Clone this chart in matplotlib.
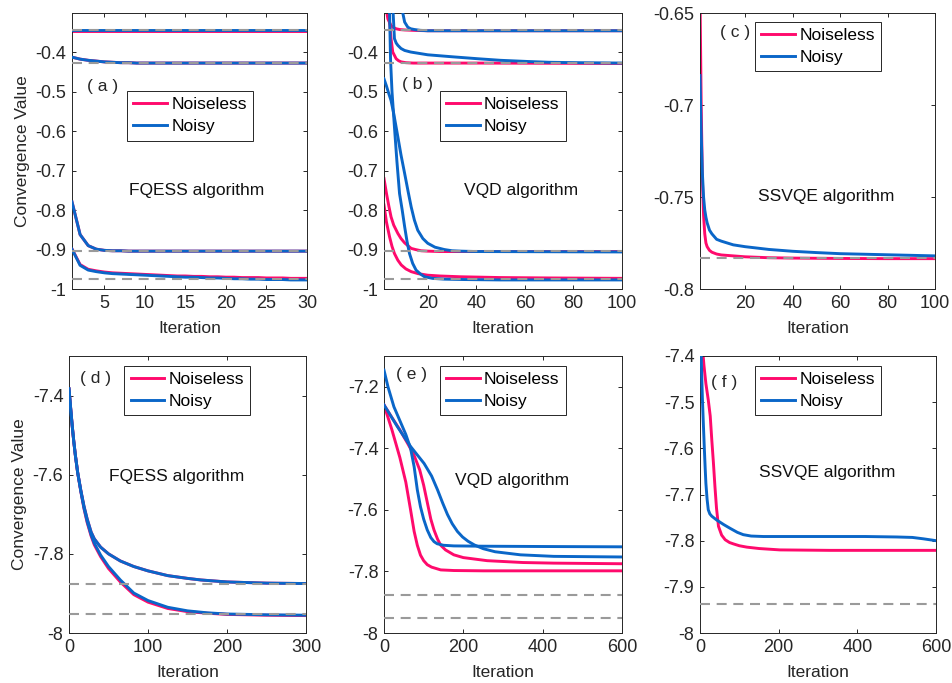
import numpy as np
import matplotlib as mpl
mpl.use('Agg')
import matplotlib.pyplot as plt

plt.rcParams['font.family'] = ['Liberation Sans', 'DejaVu Sans']
plt.rcParams['axes.unicode_minus'] = False

PINK = '#FF0A6C'
BLUE = '#0A66C8'
GRAY = '#9A9A9A'
DARK = '#262626'

# ---------------- (a) FQESS, 4 states ----------------
a_x = list(range(1, 31))
a_clean = [
    [-0.345] * 30,
    [-0.412, -0.417, -0.420, -0.422, -0.424, -0.425, -0.426, -0.426, -0.427, -0.427,
     -0.427, -0.427, -0.427, -0.427, -0.427, -0.427, -0.427, -0.427, -0.427, -0.427,
     -0.427, -0.427, -0.427, -0.427, -0.427, -0.427, -0.427, -0.427, -0.427, -0.427],
    [-0.779, -0.862, -0.890, -0.899, -0.902, -0.903, -0.903, -0.904, -0.904, -0.904,
     -0.904, -0.904, -0.904, -0.904, -0.904, -0.904, -0.904, -0.904, -0.904, -0.904,
     -0.904, -0.904, -0.904, -0.904, -0.904, -0.904, -0.904, -0.904, -0.904, -0.904],
    [-0.898, -0.938, -0.950, -0.954, -0.957, -0.959, -0.960, -0.961, -0.962, -0.963,
     -0.964, -0.965, -0.966, -0.967, -0.967, -0.968, -0.968, -0.969, -0.969, -0.970,
     -0.970, -0.971, -0.971, -0.971, -0.972, -0.972, -0.972, -0.973, -0.973, -0.973],
]
a_noisy = [
    [-0.343] * 30,
    [-0.412, -0.417, -0.420, -0.422, -0.424, -0.425, -0.426, -0.426, -0.427, -0.427,
     -0.427, -0.427, -0.427, -0.427, -0.427, -0.427, -0.427, -0.427, -0.427, -0.427,
     -0.427, -0.427, -0.427, -0.427, -0.427, -0.427, -0.427, -0.427, -0.427, -0.427],
    [-0.779, -0.862, -0.890, -0.899, -0.902, -0.903, -0.903, -0.904, -0.904, -0.904,
     -0.904, -0.904, -0.904, -0.904, -0.904, -0.904, -0.904, -0.904, -0.904, -0.904,
     -0.904, -0.904, -0.904, -0.904, -0.904, -0.904, -0.904, -0.904, -0.904, -0.904],
    [-0.899, -0.940, -0.952, -0.956, -0.959, -0.961, -0.962, -0.963, -0.964, -0.965,
     -0.966, -0.967, -0.968, -0.969, -0.970, -0.970, -0.971, -0.972, -0.972, -0.973,
     -0.974, -0.974, -0.975, -0.975, -0.976, -0.976, -0.976, -0.977, -0.977, -0.977],
]
exact_small = [-0.344, -0.427, -0.904, -0.974]

# ---------------- (b) VQD, 4 states ----------------
b_clean = [
    ([2, 2.9, 3.6, 4.9, 6, 7, 8.5, 10.5, 14, 20, 40, 60, 80, 100],
     [-0.15, -0.29, -0.315, -0.332, -0.337, -0.340, -0.342, -0.343, -0.344, -0.345,
      -0.345, -0.345, -0.345, -0.345]),
    ([2, 3.8, 4.4, 4.9, 5.6, 7, 8, 9.1, 11, 14, 20, 40, 100],
     [-0.1, -0.30, -0.33, -0.365, -0.399, -0.416, -0.421, -0.424, -0.426, -0.427,
      -0.427, -0.427, -0.428]),
    ([2, 3, 4, 4.9, 6, 7.7, 9, 10.5, 12, 13.2, 15, 17.3, 20, 25, 30, 50, 100],
     [-0.72, -0.757, -0.79, -0.817, -0.838, -0.859, -0.872, -0.883, -0.891, -0.897,
      -0.900, -0.903, -0.904, -0.905, -0.905, -0.905, -0.905]),
    ([2, 3, 4.3, 5.3, 6.3, 7.7, 9.1, 11, 13.2, 16, 20, 25, 33.7, 50, 70, 100],
     [-0.787, -0.83, -0.868, -0.892, -0.910, -0.927, -0.939, -0.949, -0.956, -0.961,
      -0.965, -0.967, -0.969, -0.971, -0.972, -0.973]),
]
b_noisy = [
    ([9.2, 9.8, 10.5, 11.8, 13, 14.6, 17, 20, 40, 100],
     [-0.25, -0.302, -0.323, -0.336, -0.340, -0.342, -0.344, -0.345, -0.345, -0.345]),
    ([5.0, 5.6, 6.3, 7.0, 7.7, 9, 10.5, 13, 16, 20, 30, 40.6, 50, 61.2, 70, 81.7, 100],
     [-0.15, -0.281, -0.365, -0.376, -0.382, -0.390, -0.395, -0.399, -0.402, -0.406,
      -0.411, -0.416, -0.420, -0.423, -0.425, -0.426, -0.427]),
    ([2, 3, 4, 4.9, 6, 7.7, 9, 10.5, 12, 13.2, 14.5, 15.9, 18, 20, 23, 26.9, 30, 33.7, 40, 100],
     [-0.467, -0.485, -0.505, -0.522, -0.555, -0.614, -0.660, -0.707, -0.755, -0.792,
      -0.825, -0.851, -0.872, -0.884, -0.894, -0.900, -0.903, -0.904, -0.905, -0.906]),
    ([3.5, 4.3, 4.7, 5.3, 6.3, 7.3, 8.4, 9.5, 10.5, 11.5, 12.5, 13.8, 15.2, 17, 18.7,
      22, 26.9, 35, 50, 100],
     [-0.10, -0.30, -0.42, -0.50, -0.589, -0.675, -0.758, -0.80, -0.842, -0.88, -0.91,
      -0.935, -0.952, -0.962, -0.969, -0.973, -0.975, -0.976, -0.977, -0.977]),
]

# ---------------- (c) SSVQE, 1 state ----------------
c_clean = [([1, 1.5, 2, 2.5, 3, 3.5, 4, 5, 6, 8, 10, 15, 20, 30, 40, 60, 80, 100],
            [-0.64, -0.70, -0.74, -0.760, -0.770, -0.775, -0.777, -0.779, -0.780, -0.781,
             -0.7815, -0.782, -0.7825, -0.783, -0.7832, -0.7834, -0.7835, -0.7835])]
c_noisy = [([1, 1.5, 2, 2.5, 3, 3.5, 4, 5, 6, 8, 10, 15, 20, 30, 40, 50, 60, 80, 100],
            [-0.684, -0.715, -0.737, -0.750, -0.757, -0.761, -0.764, -0.768, -0.770, -0.773,
             -0.774, -0.776, -0.777, -0.7785, -0.7795, -0.7802, -0.7808, -0.7814, -0.782])]
exact_c = [-0.7833]

# ---------------- (d) FQESS, large model ----------------
d_x_up = [0, 2, 4, 6, 8, 11, 15, 19, 23, 28, 32, 40, 50, 65, 82, 100, 125, 150, 167, 200, 250, 300]
d_x_lo = [0, 2, 4, 6, 8, 11, 15, 19, 23, 28, 32, 40, 50, 65, 82, 100, 125, 150, 175, 200, 250, 300]
d_clean = [
    (d_x_up, [-7.383, -7.43, -7.475, -7.515, -7.55, -7.595, -7.64, -7.68, -7.712, -7.745, -7.762,
              -7.783, -7.80, -7.818, -7.832, -7.843, -7.855, -7.862, -7.866, -7.871, -7.874, -7.875]),
    (d_x_lo, [-7.383, -7.43, -7.475, -7.515, -7.55, -7.595, -7.643, -7.686, -7.721, -7.755, -7.777,
              -7.807, -7.837, -7.871, -7.903, -7.922, -7.938, -7.946, -7.950, -7.953, -7.955, -7.956]),
]
d_noisy = [
    (d_x_up, [-7.383, -7.43, -7.475, -7.515, -7.55, -7.595, -7.64, -7.68, -7.712, -7.745, -7.762,
              -7.783, -7.80, -7.818, -7.832, -7.843, -7.855, -7.862, -7.866, -7.871, -7.874, -7.875]),
    (d_x_lo, [-7.383, -7.43, -7.475, -7.515, -7.55, -7.595, -7.642, -7.684, -7.718, -7.752, -7.773,
              -7.803, -7.832, -7.866, -7.899, -7.918, -7.935, -7.944, -7.949, -7.952, -7.954, -7.955]),
]
exact_big = [-7.876, -7.952]

# ---------------- (e) VQD, large model ----------------
e_clean = [
    ([0, 20, 40, 55, 67, 76, 84, 92, 100, 109, 120, 143, 176, 250, 400, 600],
     [-7.259, -7.34, -7.43, -7.51, -7.60, -7.67, -7.715, -7.747, -7.765, -7.778, -7.786,
      -7.795, -7.797, -7.798, -7.798, -7.798]),
    ([0, 20, 40, 60, 75, 90, 100, 109, 118, 126, 135, 143, 155, 176, 200, 260, 350, 428, 600],
     [-7.259, -7.30, -7.34, -7.385, -7.42, -7.47, -7.52, -7.575, -7.63, -7.665, -7.695,
      -7.715, -7.73, -7.746, -7.755, -7.765, -7.771, -7.773, -7.775]),
]
e_noisy = [
    ([0, 10, 25, 40, 55, 67, 76, 84, 92, 100, 109, 118, 126, 134, 150, 176, 250, 400, 600],
     [-7.146, -7.20, -7.265, -7.31, -7.355, -7.40, -7.46, -7.535, -7.59, -7.63, -7.665,
      -7.69, -7.703, -7.71, -7.715, -7.717, -7.718, -7.719, -7.72]),
    ([0, 34, 67, 101, 120, 135, 148, 160, 172, 185, 198, 212, 228, 250, 280, 344, 428, 600],
     [-7.259, -7.33, -7.394, -7.449, -7.49, -7.535, -7.578, -7.615, -7.645, -7.67, -7.688,
      -7.702, -7.714, -7.726, -7.736, -7.746, -7.751, -7.753]),
]

# ---------------- (f) SSVQE, large model ----------------
f_clean = [([5, 10, 15, 21, 26, 30, 34, 38, 42, 47, 55, 64, 75, 85, 100, 119, 150, 203, 331, 600],
            [-7.37, -7.42, -7.46, -7.495, -7.53, -7.582, -7.63, -7.683, -7.73, -7.769, -7.788,
             -7.798, -7.804, -7.807, -7.811, -7.814, -7.817, -7.82, -7.821, -7.821])]
f_noisy = [([0, 3, 6, 8.5, 11, 13, 15, 18, 21, 25, 30, 42, 60, 76, 95, 110, 130, 161, 250, 331,
             420, 500, 540, 568, 600],
            [-7.33, -7.40, -7.49, -7.546, -7.60, -7.64, -7.676, -7.71, -7.733, -7.742, -7.747,
             -7.755, -7.765, -7.773, -7.782, -7.787, -7.79, -7.791, -7.791, -7.791, -7.791,
             -7.792, -7.793, -7.796, -7.80])]
exact_f = [-7.938]

W, H = 952, 683
FS = 12.5
fig = plt.figure(figsize=(W / 100, H / 100), dpi=100)


def add_ax(left, top, right, bottom):
    return fig.add_axes([left / W, 1 - bottom / H, (right - left) / W, (bottom - top) / H])


def style(ax):
    for s in ax.spines.values():
        s.set_color(DARK)
        s.set_linewidth(0.7)
    ax.tick_params(direction='in', length=3, width=0.7, colors=DARK, labelsize=13,
                   top=True, right=True, pad=4)
    ax.set_xlabel('Iteration', fontsize=FS, color=DARK)
    ax.xaxis.set_label_coords(0.5, -0.115)


def panel(ax, clean, noisy, exact, xlim, ylim, yticks, xticks, tag, tagpos, name, namepos, legtop):
    for x, y in clean:
        ax.plot(x, y, color=PINK, lw=2.1, zorder=2)
    for x, y in noisy:
        ax.plot(x, y, color=BLUE, lw=2.1, zorder=3)
    for v in exact:
        ax.axhline(v, color=GRAY, lw=1.5, ls=(0, (4.8, 3.2)), zorder=4)
    ax.set_xlim(*xlim)
    ax.set_ylim(*ylim)
    ax.set_yticks(yticks)
    ax.set_yticklabels(['%g' % t for t in yticks])
    ax.set_xticks(xticks)
    ax.set_xticklabels(['%g' % t for t in xticks])
    style(ax)
    h1, = ax.plot([], [], color=PINK, lw=2.1)
    h2, = ax.plot([], [], color=BLUE, lw=2.1)
    leg = ax.legend([h1, h2], ['Noiseless', 'Noisy'], loc='upper left',
                    bbox_to_anchor=(0.234, legtop), borderaxespad=0, fontsize=FS,
                    fancybox=False, framealpha=1, edgecolor=DARK, handlelength=1.95,
                    handletextpad=0.25, labelspacing=0.4, borderpad=0.35)
    leg.get_frame().set_linewidth(0.7)
    fig.text(tagpos[0] / W, 1 - tagpos[1] / H, tag, fontsize=FS, color=DARK,
             ha='center', va='center')
    fig.text(namepos[0] / W, 1 - namepos[1] / H, name, fontsize=FS, color='#111111',
             ha='center', va='center')


ax_a = add_ax(72, 13, 307, 289)
panel(ax_a, [(a_x, y) for y in a_clean], [(a_x, y) for y in a_noisy], exact_small,
      (1, 30), (-1, -0.3), [-1, -0.9, -0.8, -0.7, -0.6, -0.5, -0.4], [5, 10, 15, 20, 25, 30],
      '( a )', (103, 87), 'FQESS algorithm', (197, 191), 0.717)
ax_a.set_ylabel('Convergence Value', fontsize=FS, color=DARK)
ax_a.yaxis.set_label_coords(-0.178, 0.5)

ax_b = add_ax(384, 13, 622, 289)
panel(ax_b, b_clean, b_noisy, exact_small,
      (2, 100), (-1, -0.3), [-1, -0.9, -0.8, -0.7, -0.6, -0.5, -0.4], [20, 40, 60, 80, 100],
      '( b )', (418, 85), 'VQD algorithm', (521, 191), 0.717)

ax_c = add_ax(700, 13, 935, 289)
panel(ax_c, c_clean, c_noisy, exact_c,
      (1, 100), (-0.8, -0.65), [-0.8, -0.75, -0.7, -0.65], [20, 40, 60, 80, 100],
      '( c )', (735, 33), 'SSVQE algorithm', (826, 197), 0.968)

ax_d = add_ax(69, 356, 306, 633)
panel(ax_d, d_clean, d_noisy, exact_big,
      (0, 300), (-8, -7.3), [-8, -7.8, -7.6, -7.4], [0, 100, 200, 300],
      '( d )', (95, 379), 'FQESS algorithm', (177, 477), 0.964)
ax_d.set_ylabel('Convergence Value', fontsize=FS, color=DARK)
ax_d.yaxis.set_label_coords(-0.178, 0.5)

ax_e = add_ax(384, 356, 622, 633)
panel(ax_e, e_clean, e_noisy, exact_big,
      (0, 600), (-8, -7.1), [-8, -7.8, -7.6, -7.4, -7.2], [0, 200, 400, 600],
      '( e )', (411, 375), 'VQD algorithm', (512, 480), 0.964)

ax_f = add_ax(700, 356, 936, 633)
panel(ax_f, f_clean, f_noisy, exact_f,
      (0, 600), (-8, -7.4), [-8, -7.9, -7.8, -7.7, -7.6, -7.5, -7.4], [0, 200, 400, 600],
      '( f )', (724, 383), 'SSVQE algorithm', (827, 473), 0.964)

fig.savefig('out.png', dpi=100)
